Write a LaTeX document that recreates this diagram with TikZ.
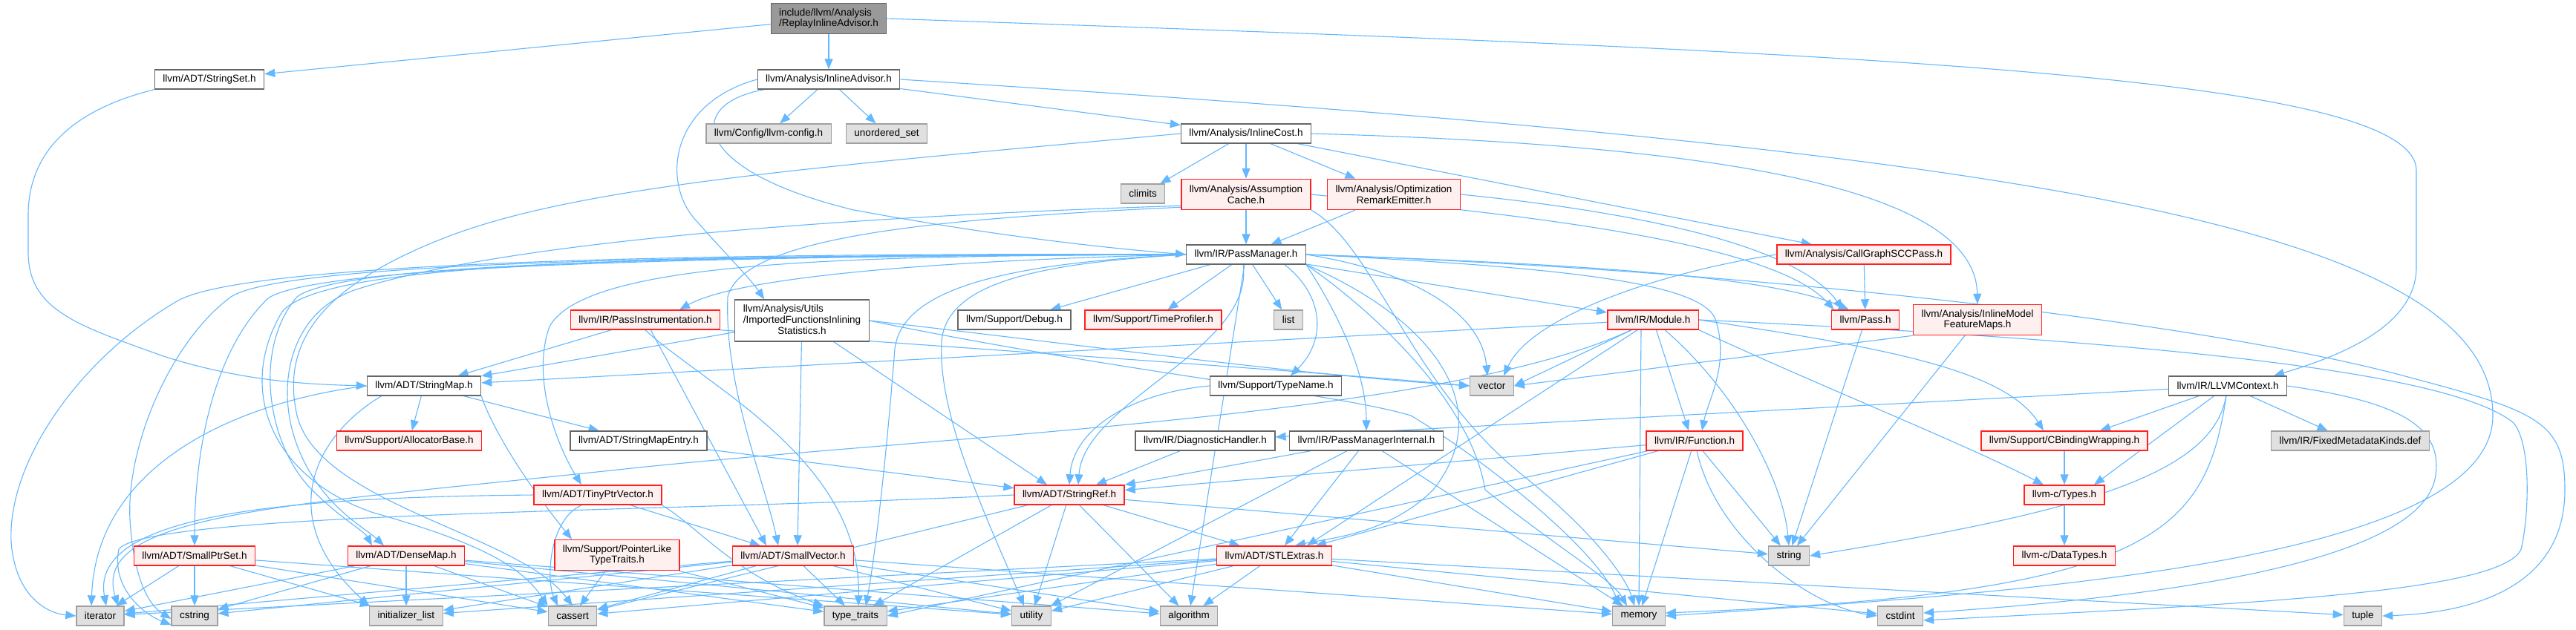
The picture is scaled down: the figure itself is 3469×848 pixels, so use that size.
\documentclass[tikz,border=0pt]{standalone}
\usepackage{fontspec}
\setmainfont{Liberation Sans}
\usetikzlibrary{arrows.meta}
\definecolor{edgecol}{HTML}{63B8FF}
\definecolor{nodeborder}{HTML}{666666}
\definecolor{sysborder}{HTML}{A0A0A0}
\definecolor{sysfill}{HTML}{E0E0E0}
\definecolor{truncborder}{HTML}{FF2020}
\definecolor{truncfill}{HTML}{FFF0F0}
\definecolor{mainfill}{HTML}{999999}
\pgfdeclarelayer{bg}
\pgfsetlayers{bg,main}
\begin{document}
\begin{tikzpicture}[x=0.5pt,y=-0.5pt,
  box/.style={draw=nodeborder, fill=white, line width=0.65pt, inner xsep=5.5pt, inner ysep=1pt,
    minimum height=13pt, font=\fontsize{6.75pt}{7.3pt}\selectfont, anchor=center},
  sys/.style={box, draw=sysborder, fill=sysfill},
  trunc/.style={box, draw=truncborder, fill=truncfill, line width=0.75pt},
  mainnode/.style={box, fill=mainfill, draw=nodeborder, align=left},
  two/.style={minimum height=20.5pt, align=center},
  three/.style={minimum height=28pt, font=\fontsize{6.75pt}{7.5pt}\selectfont},
  e/.style={draw=edgecol, line width=0.55pt, -{Triangle[length=7pt,width=5.5pt]}}]
\useasboundingbox (0,0) rectangle (3469,848);

% ---------- nodes ----------
\node[mainnode,two,align=left] (main) at (1116,25) {include/llvm/Analysis\\/ReplayInlineAdvisor.h};
\node[box] (sset) at (282,107) {llvm/ADT/StringSet.h};
\node[box] (iadv) at (1116,107) {llvm/Analysis/InlineAdvisor.h};
\node[sys] (cfg) at (1035,180) {llvm/Config/llvm-config.h};
\node[sys] (uset) at (1194,180) {unordered\_set};
\node[box] (icost) at (1678,180) {llvm/Analysis/InlineCost.h};
\node[sys] (climits) at (1539,261) {climits};
\node[trunc,two] (acache) at (1678,262) {llvm/Analysis/Assumption\\Cache.h};
\node[trunc,two] (ore) at (1877,262) {llvm/Analysis/Optimization\\RemarkEmitter.h};
\node[box] (pm) at (1678,343) {llvm/IR/PassManager.h};
\node[trunc] (cgscc) at (2510,343) {llvm/Analysis/CallGraphSCCPass.h};
\node[trunc] (pinst) at (869,431) {llvm/IR/PassInstrumentation.h};
\node[box,three] (ifis) at (1080,432) {\begin{tabular}{@{}l@{}}llvm/Analysis/Utils\\/ImportedFunctionsInlining\\\multicolumn{1}{@{}c@{}}{Statistics.h}\end{tabular}};
\node[box] (debug) at (1366,431) {llvm/Support/Debug.h};
\node[trunc] (tprof) at (1553,431) {llvm/Support/TimeProfiler.h};
\node[sys] (list) at (1735,431) {list};
\node[trunc] (module) at (2226,431) {llvm/IR/Module.h};
\node[trunc] (pass) at (2512,431) {llvm/Pass.h};
\node[trunc,two] (imfm) at (2663,431) {llvm/Analysis/InlineModel\\FeatureMaps.h};
\node[box] (smap) at (571,520) {llvm/ADT/StringMap.h};
\node[box] (tname) at (1718,520) {llvm/Support/TypeName.h};
\node[sys] (vector) at (2009,520) {vector};
\node[box] (llvmctx) at (3000,520) {llvm/IR/LLVMContext.h};
\node[trunc] (alloc) at (551,594) {llvm/Support/AllocatorBase.h};
\node[box] (smapent) at (860,594) {llvm/ADT/StringMapEntry.h};
\node[box] (diag) at (1623,594) {llvm/IR/DiagnosticHandler.h};
\node[box] (pmi) at (1840,594) {llvm/IR/PassManagerInternal.h};
\node[trunc] (func) at (2282,594) {llvm/IR/Function.h};
\node[trunc] (cbw) at (2780,594) {llvm/Support/CBindingWrapping.h};
\node[sys] (fmk) at (3165,594) {llvm/IR/FixedMetadataKinds.def};
\node[trunc] (tpv) at (805,667) {llvm/ADT/TinyPtrVector.h};
\node[trunc] (sref) at (1440,667) {llvm/ADT/StringRef.h};
\node[trunc] (ctypes) at (2780,667) {llvm-c/Types.h};
\node[trunc,two] (plt) at (831,748) {llvm/Support/PointerLike\\TypeTraits.h};
\node[trunc] (sps) at (262,749) {llvm/ADT/SmallPtrSet.h};
\node[trunc] (dmap) at (547,749) {llvm/ADT/DenseMap.h};
\node[trunc] (svec) at (1068,749) {llvm/ADT/SmallVector.h};
\node[trunc] (stlx) at (1716,749) {llvm/ADT/STLExtras.h};
\node[sys] (string) at (2409,749) {string};
\node[trunc] (dtypes) at (2780,749) {llvm-c/DataTypes.h};
\node[sys] (iterator) at (135,830) {iterator};
\node[sys] (cstring) at (262,830) {cstring};
\node[sys] (initlist) at (547,830) {initializer\_list};
\node[sys] (cassert) at (771,830) {cassert};
\node[sys] (typetraits) at (1152,830) {type\_traits};
\node[sys] (utility) at (1389,830) {utility};
\node[sys] (algorithm) at (1601,830) {algorithm};
\node[sys] (memory) at (2207,830) {memory};
\node[sys] (cstdint) at (2559,830) {cstdint};
\node[sys] (tuple) at (3182,830) {tuple};

% ---------- edges ----------
\begin{pgfonlayer}{bg}
\fill[white] (0,0) rectangle (3469,848);
% main
\draw[e] (main) -- (sset);
\draw[e] (main) -- (iadv);
\draw[e] (main.east) .. controls (2500,70) and (3254,100) .. (3254,230) -- (3254,360) .. controls (3254,440) and (3150,480) .. ([xshift=31pt]llvmctx.north);
% StringSet
\draw[e] (sset.south west) .. controls (90,150) and (38,210) .. (38,290) -- (38,340) .. controls (38,420) and (110,440) .. (220,480) .. controls (330,515) and (420,518) .. (smap.west);
% InlineAdvisor
\draw[e] (iadv) -- (cfg);
\draw[e] (iadv) -- (uset);
\draw[e] (iadv) -- (icost);
\draw[e] (iadv.west) .. controls (900,140) and (890,250) .. (940,300) .. controls (975,340) and (1010,375) .. ([xshift=20pt]ifis.north west);
\draw[e] ([xshift=5pt]iadv.south west) .. controls (920,140) and (930,230) .. (1150,283) .. controls (1350,320) and (1500,335) .. (pm.west);
\draw[e] (iadv.east) .. controls (2700,200) and (3357,300) .. (3357,560) .. controls (3357,760) and (2700,800) .. (memory.east);
% InlineCost
\draw[e] (icost) -- (climits);
\draw[e] (icost) -- (acache);
\draw[e] (icost) -- (ore);
\draw[e] (icost) -- (cgscc);
\draw[e] (icost.east) .. controls (2300,195) and (2660,250) .. (imfm.north);
\draw[e] (icost.west) .. controls (1100,225) and (780,250) .. (600,320) .. controls (420,390) and (380,470) .. (400,560) .. controls (430,680) and (700,720) .. (cassert.north);
% AssumptionCache
\draw[e] (acache) -- (pm);
\draw[e] ([yshift=3pt]acache.south west) .. controls (1200,290) and (700,320) .. (480,390) .. controls (390,420) and (370,520) .. (400,600) .. controls (430,680) and (490,710) .. ([xshift=-15pt]dmap.north);
\draw[e] ([yshift=2pt]acache.south west) .. controls (1250,295) and (1000,320) .. (980,400) .. controls (975,520) and (1030,650) .. ([xshift=-10pt]svec.north);
\draw[e] (acache.east) .. controls (2000,285) and (2380,320) .. ([xshift=2pt]pass.north west);
\draw[e] (acache.south east) .. controls (1850,330) and (1900,520) .. (2050,640) .. controls (2150,720) and (2190,780) .. ([xshift=-3pt]memory.north);
% ORE
\draw[e] (ore) -- (pm);
\draw[e] (ore.east) .. controls (2200,285) and (2420,330) .. ([xshift=8pt]pass.north west);
% CallGraphSCCPass
\draw[e] (cgscc) -- (pass);
\draw[e] (cgscc.west) .. controls (2220,370) and (2060,430) .. ([xshift=8pt]vector.north);
% PassManager
\draw[e] (pm) -- (debug);
\draw[e] (pm) -- (tprof);
\draw[e] (pm) -- (list);
\draw[e] (pm) -- (module);
\draw[e] (pm) -- (algorithm);
\draw[e] (pm.east) .. controls (2100,355) and (2380,370) .. ([xshift=12pt]pass.north west);
\draw[e] (pm.east) .. controls (2400,365) and (3000,440) .. (3250,510) .. controls (3420,555) and (3454,570) .. (3454,660) .. controls (3454,780) and (3350,825) .. (tuple.east);
\draw[e] (pm.east) .. controls (1900,365) and (1995,420) .. ([xshift=-3pt]vector.north);
\draw[e] (pm.south east) .. controls (1850,420) and (1980,540) .. (2000,660) .. controls (2100,740) and (2170,780) .. ([xshift=-8pt]memory.north);
\draw[e] (pm.east) .. controls (2100,360) and (2290,380) .. (2310,430) .. controls (2330,490) and (2300,540) .. ([xshift=5pt]func.north);
\draw[e] (pm.south east) .. controls (1950,440) and (2010,560) .. (1930,660) .. controls (1870,720) and (1790,725) .. ([xshift=14pt]stlx.north);
\draw[e] (pm.south east) .. controls (1800,420) and (1840,500) .. (pmi.north);
\draw[e] ([xshift=26pt]pm.south) .. controls (1785,400) and (1785,460) .. ([xshift=10pt]tname.north);
\draw[e] ([xshift=-2pt]pm.south) .. controls (1690,470) and (1460,540) .. ([xshift=6pt]sref.north);
\draw[e] (pm.west) .. controls (1300,350) and (1000,370) .. ([xshift=23pt]pinst.north);
\draw[e] (pm.west) .. controls (1150,345) and (790,350) .. (740,440) .. controls (715,510) and (750,600) .. ([xshift=-11pt]tpv.north);
\draw[e] (pm.west) .. controls (900,340) and (330,355) .. (240,405) .. controls (110,480) and (10,620) .. (15,730) .. controls (20,800) and (60,826) .. (iterator.west);
\draw[e] (pm.west) .. controls (900,343) and (380,355) .. (311,400) .. controls (230,460) and (170,600) .. (175,700) .. controls (180,780) and (200,815) .. ([yshift=-2pt]cstring.west);
\draw[e] (pm.west) .. controls (900,345) and (420,360) .. (361,402) .. controls (290,470) and (262,600) .. (sps.north);
\draw[e] (pm.west) .. controls (900,345) and (460,355) .. (400,400) .. controls (340,470) and (360,600) .. (420,660) .. controls (460,700) and (490,715) .. ([xshift=-23pt]dmap.north);
\draw[e] (pm.west) .. controls (900,345) and (440,350) .. (380,420) .. controls (320,520) and (360,640) .. (500,690) .. controls (640,730) and (700,760) .. (cassert.north west);
\draw[e] (pm.west) .. controls (1350,355) and (1215,390) .. (1205,470) .. controls (1195,600) and (1180,740) .. ([xshift=7pt]typetraits.north);
\draw[e] (pm.west) .. controls (1400,355) and (1275,380) .. (1268,460) .. controls (1262,560) and (1330,700) .. ([xshift=-5pt]utility.north);
% PassInstrumentation
\draw[e] (pinst) -- (smap);
\draw[e] (pinst) -- ([xshift=-18pt]svec.north);
\draw[e] (pinst.south) .. controls (950,520) and (1160,620) .. ([xshift=2pt]typetraits.north);
\draw[e] (pinst.south east) .. controls (1300,470) and (1700,495) .. (vector.west);
% ImportedFunctionsInliningStatistics
\draw[e] (ifis) -- (smap);
\draw[e] (ifis) -- ([xshift=3pt]svec.north);
\draw[e] (ifis) -- ([xshift=-15pt]sref.north);
\draw[e] (ifis.east) .. controls (1500,470) and (1750,505) .. (vector.west);
\draw[e] (ifis.east) .. controls (1500,500) and (1800,530) .. (1900,560) .. controls (2000,620) and (2150,740) .. ([xshift=-13pt]memory.north);
% StringMap
\draw[e] (smap) -- (alloc);
\draw[e] (smap) -- (smapent);
\draw[e] (smap.south east) .. controls (660,570) and (700,640) .. ([xshift=12pt]plt.north west);
\draw[e] (smap.west) .. controls (330,540) and (130,620) .. ([xshift=-6pt]iterator.north);
\draw[e] ([xshift=10pt]smap.south west) .. controls (420,590) and (370,700) .. (initlist.north west);
% StringMapEntry, TypeName, DiagnosticHandler
\draw[e] (smapent) -- (sref);
\draw[e] (tname.west) .. controls (1520,530) and (1445,580) .. (sref.north);
\draw[e] (diag) -- ([xshift=18pt]sref.north);
% TinyPtrVector
\draw[e] (tpv) -- (svec);
\draw[e] ([xshift=-11pt]tpv.south) .. controls (740,700) and (735,780) .. ([xshift=-10pt]cassert.north);
\draw[e] (tpv.west) .. controls (400,670) and (120,690) .. ([xshift=4pt]iterator.north);
\draw[e] (tpv.south east) .. controls (940,710) and (990,775) .. (typetraits.north west);
% PointerLikeTypeTraits
\draw[e] (plt) -- (cassert);
\draw[e] (plt) -- (typetraits);
% SmallPtrSet
\draw[e] (sps) -- (iterator);
\draw[e] (sps) -- (cstring);
\draw[e] (sps) -- (initlist);
\draw[e] (sps) -- (cassert);
\draw[e] (sps) -- (utility);
% DenseMap
\draw[e] (dmap) -- (iterator);
\draw[e] (dmap) -- (cstring);
\draw[e] (dmap) -- (initlist);
\draw[e] (dmap) -- (cassert);
\draw[e] (dmap) -- (typetraits);
\draw[e] (dmap) -- (utility);
\draw[e] (dmap) -- (algorithm);
% SmallVector
\draw[e] (svec) -- (iterator);
\draw[e] (svec) -- (cstring);
\draw[e] (svec) -- (initlist);
\draw[e] (svec) -- (cassert);
\draw[e] (svec) -- (typetraits);
\draw[e] (svec) -- (utility);
\draw[e] (svec) -- (algorithm);
\draw[e] (svec) -- (memory);
% StringRef
\draw[e] (sref) -- (stlx);
\draw[e] (sref) -- (typetraits);
\draw[e] (sref) -- (utility);
\draw[e] (sref) -- (algorithm);
\draw[e] (sref) -- (cassert);
\draw[e] (sref) -- (string);
\draw[e] (sref.west) .. controls (900,690) and (200,690) .. (160,740) .. controls (150,790) and (190,826) .. ([yshift=-6pt]cstring.west);
% STLExtras
\draw[e] (stlx) -- (algorithm);
\draw[e] (stlx) -- (utility);
\draw[e] (stlx) -- (typetraits);
\draw[e] (stlx) -- (cassert);
\draw[e] (stlx) -- (initlist);
\draw[e] (stlx) -- (iterator);
\draw[e] (stlx) -- (memory);
\draw[e] (stlx) -- (cstdint);
\draw[e] (stlx) -- (tuple);
% PassManagerInternal
\draw[e] (pmi) -- (sref);
\draw[e] (pmi) -- ([xshift=7pt]stlx.north);
\draw[e] (pmi) -- (memory);
\draw[e] (pmi) -- (utility);
% Function
\draw[e] (func) -- (sref);
\draw[e] (func) -- (memory);
\draw[e] (func) -- (string);
\draw[e] (func) -- ([xshift=28pt]stlx.north);
\draw[e] (func) -- (typetraits.east);
\draw[e] (func) .. controls (2310,720) and (2430,815) .. (cstdint.west);
% Module
\draw[e] (module) -- (smap);
\draw[e] (module) .. controls (1950,560) and (1300,585) .. (860,630) .. controls (400,680) and (120,690) .. ([xshift=12pt]iterator.north);
\draw[e] (module) -- ([xshift=22pt]stlx.north);
\draw[e] (module) -- ([xshift=-4pt]func.north);
\draw[e] (module) -- (vector.east);
\draw[e] ([xshift=-8pt]module.south) -- (memory.north);
\draw[e] (module) .. controls (2330,520) and (2400,640) .. (string.north);
\draw[e] (module.east) .. controls (2550,470) and (2700,500) .. ([xshift=-14pt]cbw.north);
\draw[e] (module.south east) .. controls (2450,520) and (2650,600) .. ([xshift=-14pt]ctypes.north);
\draw[e] (module.east) .. controls (2900,460) and (3300,500) .. (3385,570) .. controls (3410,600) and (3405,700) .. (3395,740) .. controls (3370,800) and (3000,815) .. ([yshift=-3pt]cstdint.east);
% LLVMContext
\draw[e] (llvmctx) -- (diag);
\draw[e] (llvmctx) -- ([xshift=24pt]cbw.north);
\draw[e] (llvmctx) -- ([xshift=20pt]ctypes.north);
\draw[e] (llvmctx) -- (fmk);
\draw[e] (llvmctx) .. controls (2980,640) and (2800,690) .. (string.east);
\draw[e] (llvmctx) .. controls (2970,720) and (2900,800) .. ([yshift=2pt]memory.east);
\draw[e] (llvmctx.east) .. controls (3220,540) and (3290,570) .. (3280,640) .. controls (3265,760) and (2900,805) .. ([yshift=2pt]cstdint.east);
% others
\draw[e] (imfm) -- (string);
\draw[e] (imfm.south west) -- (vector.east);
\draw[e] (pass) -- (string);
\draw[e] (cbw) -- (ctypes);
\draw[e] (ctypes) -- (dtypes);
\end{pgfonlayer}
\end{tikzpicture}
\end{document}
